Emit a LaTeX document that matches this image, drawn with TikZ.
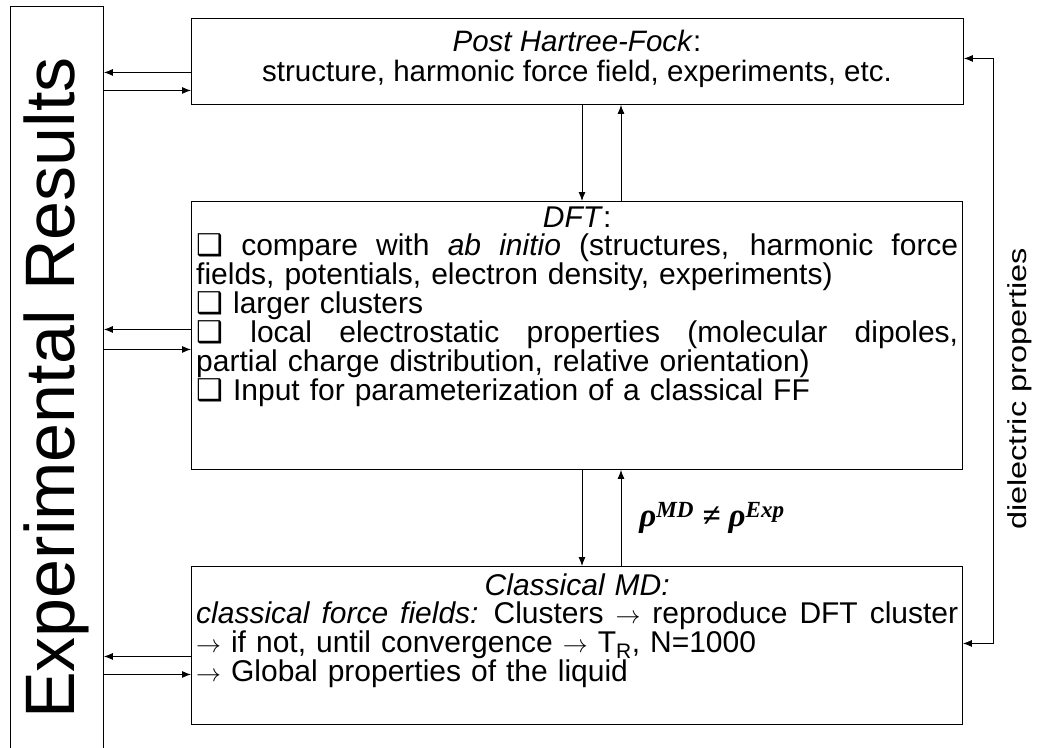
\documentclass[tikz,border=0pt]{standalone}
\usepackage{amsmath,amssymb}
\usepackage{fontspec}
\setmainfont{Liberation Sans}
\newfontfamily\symfont{DejaVu Sans}
\newfontfamily\rhofont{Liberation Serif}
\usetikzlibrary{arrows.meta,positioning,calc}

\newcommand{\chk}{{\symfont\char"2751}}
\newcommand{\ra}{$\rightarrow$}
% full-width line with stretched spaces
\newcommand{\fillline}[1]{\makebox[762pt][s]{\spaceskip=0.28em plus 1em\relax #1}}

\begin{document}
\begin{tikzpicture}[
  x=1pt, y=-1pt,
  frame/.style={rectangle, draw, line width=0.9pt, inner sep=0pt},
  body/.style={inner sep=0pt, align=left, font=\fontsize{30}{27.6}\selectfont},
  arrow/.style={line width=0.9pt, -{Latex[length=9pt,width=7pt]}}
]
\clip (0,0) rectangle (1044,747);

% Frames
\node[frame, minimum width=93, minimum height=800, anchor=north west] (exp) at (10,6) {};
\node[frame, minimum width=772, minimum height=86, anchor=north west] (pht) at (191,18) {};
\node[frame, minimum width=771, minimum height=268, anchor=north west] (dft) at (191,201) {};
\node[frame, minimum width=771, minimum height=158, anchor=north west] (cmd) at (191,566) {};

% Texts
\node[rotate=90, inner sep=0pt, font=\fontsize{70}{70}\selectfont] (exptext) at (56,388) {Experimental Results};

\node[body, align=center, font=\fontsize{29.5}{30}\selectfont] (phttext) at (577,59)
  {\textit{Post Hartree-Fock}:\\structure, harmonic force field, experiments, etc.};

\node[body, text width=762, anchor=north west] (dfttext) at (196,207) {%
  \makebox[762pt]{\textit{DFT}:}\\
  \fillline{\chk{} compare with \textit{ab initio} (structures, harmonic force}\\
  fields, potentials, electron density, experiments)\\
  \chk{} larger clusters\\
  \fillline{\chk{} local electrostatic properties (molecular dipoles,}\\
  partial charge distribution, relative orientation)\\
  \chk{} Input for parameterization of a classical FF};

\node[body, text width=762, anchor=north west] (cmdtext) at (196,574) {%
  \makebox[762pt]{\textit{Classical MD:}}\\
  \fillline{\textit{classical force fields:} Clusters \ra{} reproduce DFT cluster}\\
  \ra{} if not, until convergence \ra{} T\textsubscript{R}, N=1000\\
  \ra{} Global properties of the liquid};

\node[inner sep=0pt, font=\fontsize{33}{33}\selectfont\rhofont\bfseries\itshape] (rho) at (712,518)
  {ρ\textsuperscript{MD} ≠ ρ\textsuperscript{Exp}};

\node[rotate=90, inner sep=0pt, font=\fontsize{26}{26}\selectfont] (diel) at (1020,389)
  {\scalebox{1.25}[1]{dielectric properties}};

% Links to the experiment column
\foreach \b/\p/\q in {pht/-11/-29, dft/6/-14, cmd/-11/-29} {
  \draw[arrow] ([yshift=\p]\b.west) -- ([yshift=\p]\b.west -| exp.east);
  \draw[arrow] ([yshift=\q]\b.west -| exp.east) -- ([yshift=\q]\b.west);
}

% Vertical exchange between levels
\draw[arrow] (pht.south -| 582,0) -- (dft.north -| 582,0);
\draw[arrow] (dft.north -| 621,0) -- (pht.south -| 621,0);
\draw[arrow] (dft.south -| 582,0) -- (cmd.north -| 582,0);
\draw[arrow] (cmd.north -| 621,0) -- (dft.south -| 621,0);

% Feedback loop on the right
\draw[arrow, {Latex[length=9pt,width=7pt]}-{Latex[length=9pt,width=7pt]}]
  ([yshift=2]cmd.east) -- ++(31,0) |- ([yshift=3]pht.east);

\end{tikzpicture}
\end{document}
